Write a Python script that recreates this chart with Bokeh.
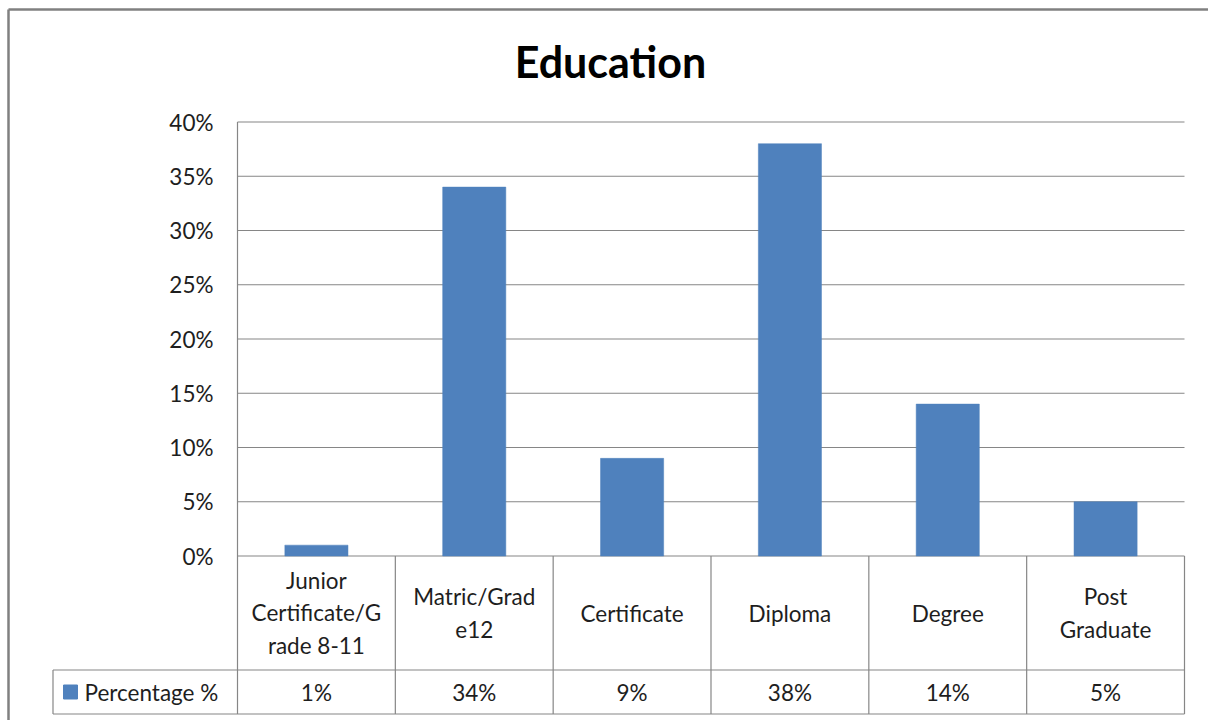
from bokeh.plotting import figure
from bokeh.models import Range1d
from bokeh.core.properties import value
from bokeh.embed import file_html
from bokeh.resources import INLINE

# ---- data -------------------------------------------------------------
title_text = "Education"
categories = [
    "Junior\nCertificate/G\nrade 8-11",
    "Matric/Grad\ne12",
    "Certificate",
    "Diploma",
    "Degree",
    "Post\nGraduate",
]
percentages = [1, 34, 9, 38, 14, 5]
value_labels = ["1%", "34%", "9%", "38%", "14%", "5%"]
series_name = "Percentage %"
y_ticks = [0, 5, 10, 15, 20, 25, 30, 35, 40]
y_tick_labels = ["0%", "5%", "10%", "15%", "20%", "25%", "30%", "35%", "40%"]

# ---- layout (canvas pixels) -------------------------------------------
W, H = 1208, 720
PLOT_LEFT, PLOT_RIGHT = 237, 1184
PLOT_TOP, PLOT_BASE = 121.5, 555.5
ROW1_BOTTOM, ROW2_BOTTOM = 669.5, 713.5
LEGEND_LEFT = 52.5
BORDER_LEFT, BORDER_TOP = 8, 9

n = len(categories)
y_max = y_ticks[-1]
col_w = (PLOT_RIGHT - PLOT_LEFT) / n
px_per_unit = (PLOT_BASE - PLOT_TOP) / y_max


def dx(px):
    return (px - PLOT_LEFT) / col_w


def dy(py):
    return (PLOT_BASE - py) / px_per_unit


FONT = "Lato"
FONT_SIZE = "22.5px"
BAR_COLOR = "#4F81BD"
LINE_COLOR = "#868686"
TEXT_COLOR = "#1E1E1E"

p = figure(
    width=W, height=H,
    x_range=Range1d(dx(0), dx(W)),
    y_range=Range1d(dy(H), dy(0)),
    x_axis_type=None, y_axis_type=None,
    toolbar_location=None, output_backend="svg",
    min_border=0,
)
p.grid.visible = False
p.outline_line_color = None
p.background_fill_color = "white"
p.border_fill_color = "white"

# outer chart border: top and left edges fall inside the window
bx, by = dx(BORDER_LEFT), dy(BORDER_TOP)
p.segment(x0=[bx, bx], x1=[dx(W) + 1, bx], y0=[by, by], y1=[by, dy(H) - 1],
          line_color="#808080", line_width=2.5)

xs = [i + 0.5 for i in range(n)]

# horizontal gridlines
p.segment(x0=[0] * len(y_ticks), x1=[n] * len(y_ticks), y0=y_ticks, y1=y_ticks,
          line_color=LINE_COLOR, line_width=1.2)

# bars
p.vbar(x=xs, top=percentages, bottom=0, width=0.4, fill_color=BAR_COLOR,
       line_color=BAR_COLOR, line_width=0.5)

# y tick labels
p.text(x=[0] * len(y_ticks), y=y_ticks, text=y_tick_labels,
       x_offset=-24, text_align="right", text_baseline="middle",
       text_font=value(FONT), text_font_size=FONT_SIZE, text_color=TEXT_COLOR)

# data table grid
y_r1 = dy(ROW1_BOTTOM)
y_r2 = dy(ROW2_BOTTOM)
hx0 = [dx(LEGEND_LEFT), dx(LEGEND_LEFT)]
hx1 = [n, n]
hy = [y_r1, y_r2]
p.segment(x0=hx0, x1=hx1, y0=hy, y1=hy, line_color=LINE_COLOR, line_width=1.2)
vx = [0] + list(range(1, n + 1)) + [dx(LEGEND_LEFT)]
vy0 = [y_r2] * (n + 1) + [y_r2]
vy1 = [y_max] + [0] * n + [y_r1]
p.segment(x0=vx, x1=vx, y0=vy0, y1=vy1, line_color=LINE_COLOR, line_width=1.2)

# category labels (first table row)
p.text(x=xs, y=[dy((PLOT_BASE + ROW1_BOTTOM) / 2)] * n, text=categories,
       text_align="center", text_baseline="middle", text_line_height=1.19,
       text_font=value(FONT), text_font_size=FONT_SIZE, text_color=TEXT_COLOR)

# values (second table row)
p.text(x=xs, y=[dy((ROW1_BOTTOM + ROW2_BOTTOM) / 2)] * n, text=value_labels,
       text_align="center", text_baseline="middle",
       text_font=value(FONT), text_font_size=FONT_SIZE, text_color=TEXT_COLOR)

# legend key in the table
p.scatter(x=[dx(70)], y=[dy((ROW1_BOTTOM + ROW2_BOTTOM) / 2)], marker="square",
          size=14, fill_color=BAR_COLOR, line_color=BAR_COLOR)
p.text(x=[dx(84)], y=[dy((ROW1_BOTTOM + ROW2_BOTTOM) / 2)], text=[series_name],
       text_align="left", text_baseline="middle",
       text_font=value(FONT), text_font_size=FONT_SIZE, text_color=TEXT_COLOR)

# title
p.text(x=[dx(610)], y=[dy(61)], text=[title_text], text_align="center",
       text_baseline="middle", text_font=value(FONT),
       text_font_style="bold", text_font_size="43px", text_color="#000000")

open("out.html", "w").write(file_html(p, INLINE))
